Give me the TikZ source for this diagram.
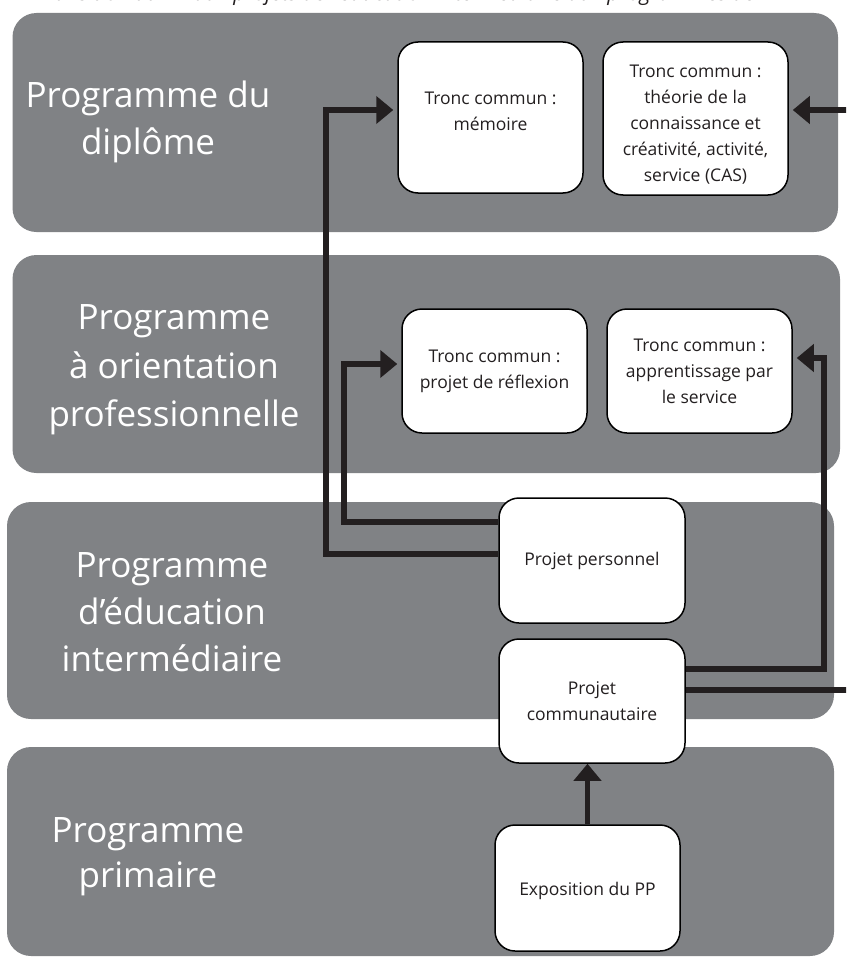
\documentclass[tikz,border=0pt]{standalone}
\usepackage{fontspec}
\setmainfont{Open Sans}
\usetikzlibrary{arrows.meta,calc}
\definecolor{bandgray}{HTML}{808285}
\definecolor{ink}{HTML}{231F20}
\begin{document}
\begin{tikzpicture}[x=1pt,y=-1pt,
  band/.style={fill=bandgray, draw=none, rounded corners=24pt},
  bandtxt/.style={text=white, align=center, inner sep=0pt, font=\fontsize{35}{47}\selectfont},
  tbox/.style={draw=black, line width=1.5pt, fill=white, rounded corners=20pt, minimum width=185pt, inner sep=0pt},
  btxt/.style={align=center, inner sep=0pt, text=ink, font=\fontsize{17.5}{26}\selectfont},
  conn/.style={draw=ink, line width=5.5pt, -{Triangle[length=17pt,width=27pt]}, shorten >=4pt}
]
\useasboundingbox (0,0) rectangle (846,958);
\clip (0,0) rectangle (846,958);
\fill[white] (0,0) rectangle (846,958);

% title line, cut off at the top edge
\node[font=\itshape\fontsize{21}{25}\selectfont, anchor=base west, inner sep=0pt, text=ink] (title) at (36,0.5)
  {Transition du PP aux projets de l’éducation intermédiaire aux programmes de l’IB};

% bands
\path[band] (12.5,13) rectangle (838,232);
\path[band] (12.5,255) rectangle (840,473);
\path[band] (7,502) rectangle (834,719);
\path[band] (7,747) rectangle (834,956);

\node[bandtxt] (l1) at (148,122.4) {Programme du\\diplôme};
\node[bandtxt, font=\fontsize{35}{48.5}\selectfont] (l2) at (174,370) {Programme\\à orientation\\professionnelle};
\node[bandtxt] (l3) at (172,612) {Programme\\d’éducation\\intermédiaire};
\node[bandtxt, font=\fontsize{35}{45}\selectfont] (l4) at (148,857) {Programme\\primaire};

% boxes
\node[tbox, minimum height=151pt] (mem) at (490.5,117.5) {};
\node[btxt] (memt) at ([yshift=6.5pt]mem.center) {Tronc commun :\\mémoire};

\node[tbox, minimum height=153pt] (theo) at (695.5,118.5) {};
\node[btxt] (theot) at ([yshift=-6.5pt]theo.center) {Tronc commun :\\théorie de la\\connaissance et\\créativité, activité,\\service (CAS)};

\node[tbox, minimum height=124pt] (refl) at (494.5,371) {};
\node[btxt] (reflt) at (refl.center) {Tronc commun :\\projet de réflexion};

\node[tbox, minimum height=124pt] (appr) at (699.5,371) {};
\node[btxt] (apprt) at (appr.center) {Tronc commun :\\apprentissage par\\le service};

\node[tbox, minimum width=186pt, minimum height=125pt] (pers) at (592,560.5) {};
\node[btxt] (perst) at (pers.center) {Projet personnel};

\node[tbox, minimum width=186pt, minimum height=124pt] (comm) at (592,701) {};
\node[btxt] (commt) at (comm.center) {Projet\\communautaire};

\node[tbox, minimum height=126pt] (expo) at (587.5,888) {};
\node[btxt] (expot) at ([yshift=-3pt]expo.center) {Exposition du PP};

% connectors
\draw[conn] ([yshift=6.5pt]pers.west) -| (326,110) -- ([yshift=7.5pt]mem.west);
\draw[conn] ([yshift=38.5pt]pers.west) -| (344,364) -- ([yshift=7pt]refl.west);
\draw[conn] ([yshift=32pt]comm.east) -| (824,358) -- ([yshift=13pt]appr.east);
\draw[conn] ([yshift=11pt]comm.east) -| (880,110) -- ([yshift=8.5pt]theo.east);
\draw[conn, shorten >=0pt] (expo.north) -- (expo.north |- comm.south);
\end{tikzpicture}
\end{document}
